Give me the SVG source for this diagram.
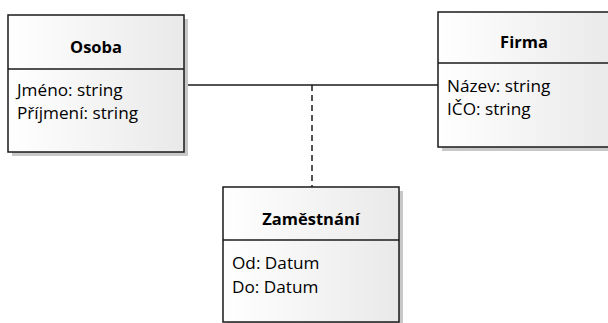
<svg xmlns="http://www.w3.org/2000/svg" width="608" height="323" viewBox="0 0 608 323">
<style>
.box{fill:url(#g);stroke:#1a1a1a;stroke-width:1.5}
.shadow{fill:#c8c8c8}
.div{stroke:#1a1a1a;stroke-width:1.5}
.title{font-family:"Open Sans","Noto Sans",sans-serif;font-size:16.5px;font-weight:bold;fill:#000;text-anchor:middle}
.attr{font-family:"Open Sans","Noto Sans",sans-serif;font-size:17.2px;fill:#000}
.conn{stroke:#1a1a1a;stroke-width:1.5;fill:none}
</style>
<defs>
<linearGradient id="g" x1="0" y1="0" x2="1" y2="0">
<stop offset="0" stop-color="#ffffff"/>
<stop offset="1" stop-color="#e9e9e9"/>
</linearGradient>
</defs>
<rect width="608" height="323" fill="#ffffff"/>
<g id="connectors">
<line class="conn" x1="184" y1="85" x2="438" y2="85"/>
<line class="conn" x1="312" y1="85" x2="312" y2="187" stroke-dasharray="6,4"/>
</g>
<g id="osoba">
<rect class="shadow" x="12" y="19" width="176" height="137"/>
<rect class="box" x="8" y="15" width="176" height="137"/>
<line class="div" x1="8" y1="69" x2="184" y2="69"/>
<text class="title" x="96" y="53">Osoba</text>
<text class="attr" x="17" y="96">Jméno: string</text>
<text class="attr" x="17" y="119">Příjmení: string</text>
</g>
<g id="firma">
<rect class="shadow" x="442" y="16" width="176" height="135"/>
<rect class="box" x="438" y="12" width="176" height="135"/>
<line class="div" x1="438" y1="63" x2="614" y2="63"/>
<text class="title" x="524" y="48">Firma</text>
<text class="attr" x="447" y="92">Název: string</text>
<text class="attr" x="447" y="115">IČO: string</text>
</g>
<g id="zamestnani">
<rect class="shadow" x="227" y="191" width="176" height="135"/>
<rect class="box" x="223" y="187" width="176" height="135"/>
<line class="div" x1="223" y1="240" x2="399" y2="240"/>
<text class="title" x="311" y="225">Zaměstnání</text>
<text class="attr" x="232" y="269">Od: Datum</text>
<text class="attr" x="232" y="293">Do: Datum</text>
</g>
</svg>
